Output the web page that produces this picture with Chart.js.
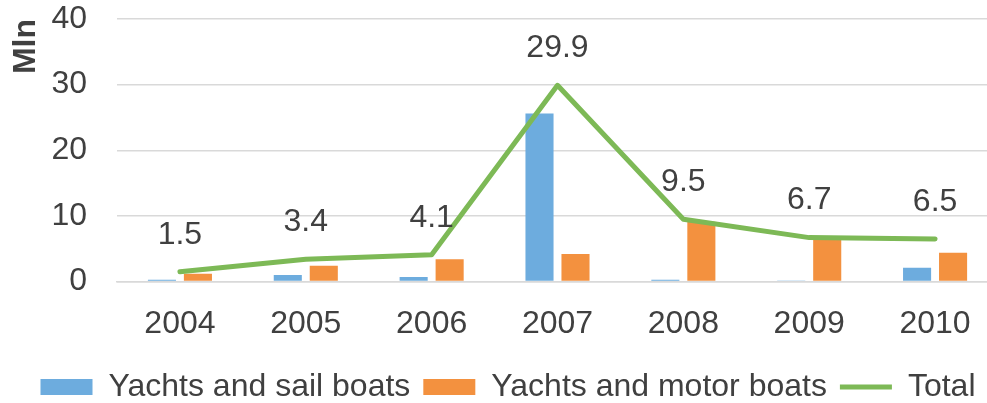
<!DOCTYPE html>
<html>
<head>
<meta charset="utf-8">
<script src="https://cdn.jsdelivr.net/npm/chart.js@4/dist/chart.umd.min.js"></script>
<style>
  html, body { margin: 0; padding: 0; background: #fff; }
  #wrap { width: 987px; height: 403px; overflow: hidden; }
</style>
</head>
<body>
<div id="wrap"><canvas id="myChart" width="1000" height="403"></canvas></div>
<script>
var years = ["2004", "2005", "2006", "2007", "2008", "2009", "2010"];
var sailBoats = [0.3, 1.0, 0.7, 25.6, 0.3, 0.15, 2.1];
var motorBoats = [1.2, 2.4, 3.4, 4.2, 9.1, 6.5, 4.4];
var total = [1.5, 3.4, 4.1, 29.9, 9.5, 6.7, 6.5];
var yTicks = [0, 10, 20, 30, 40];

Chart.defaults.font.family = "'Liberation Sans', Arial, sans-serif";
Chart.defaults.color = "#404040";

// labels above the Total line, legend nudged right a bit
var totalLabels = {
  id: "totalLabels",
  afterLayout: function (chart) {
    chart.legend.left += 9;
    chart.legend.right += 9;
  },
  afterDatasetsDraw: function (chart) {
    var ctx = chart.ctx;
    var meta = chart.getDatasetMeta(2);
    ctx.save();
    ctx.font = "32px 'Liberation Sans', Arial, sans-serif";
    ctx.fillStyle = "#404040";
    ctx.textAlign = "center";
    ctx.textBaseline = "middle";
    meta.data.forEach(function (pt, i) {
      ctx.fillText(total[i].toFixed(1), pt.x, pt.y - 37);
    });
    ctx.restore();
  },
};

var ctx = document.getElementById("myChart");
var myChart = new Chart(ctx, {
  type: "bar",
  data: {
    labels: years,
    datasets: [
      {
        label: "Yachts and sail boats",
        data: sailBoats,
        backgroundColor: "#6DACDE",
        categoryPercentage: 0.572,
        barPercentage: 0.78,
        order: 1,
      },
      {
        label: "Yachts and motor boats",
        data: motorBoats,
        backgroundColor: "#F3913F",
        categoryPercentage: 0.572,
        barPercentage: 0.78,
        order: 1,
      },
      {
        type: "line",
        label: "Total",
        data: total,
        borderColor: "#7DB956",
        backgroundColor: "#7DB956",
        borderWidth: 5,
        borderCapStyle: "round",
        borderJoinStyle: "round",
        pointRadius: 0,
        tension: 0,
        fill: false,
        order: 0,
      },
    ],
  },
  options: {
    responsive: false,
    animation: false,
    layout: { padding: { top: 19, right: 2, left: 0, bottom: -10 } },
    plugins: {
      tooltip: { enabled: false },
      legend: {
        position: "bottom",
        labels: {
          usePointStyle: true,
          pointStyleWidth: 52,
          boxHeight: 16,
          padding: 13,
          color: "#404040",
          font: { size: 32 },
          sort: function (a, b) { return a.datasetIndex - b.datasetIndex; },
          generateLabels: function (chart) {
            var items = Chart.defaults.plugins.legend.labels.generateLabels(chart);
            items.forEach(function (it) {
              if (it.datasetIndex === 2) {
                it.pointStyle = "line";
                it.lineWidth = 5;
                it.strokeStyle = "#7DB956";
              } else {
                it.pointStyle = "rect";
                it.lineWidth = 0;
              }
            });
            return items;
          },
        },
      },
    },
    scales: {
      x: {
        grid: { display: false },
        border: { color: "#D9D9D9", width: 1.5 },
        ticks: { padding: 15, font: { size: 32 }, color: "#404040" },
      },
      y: {
        min: 0,
        max: 40,
        afterBuildTicks: function (scale) {
          scale.ticks = yTicks.map(function (v) { return { value: v }; });
        },
        afterFit: function (scale) {
          scale.width = 117;
          scale.paddingTop = 0;
          scale.paddingBottom = 0;
        },
        grid: { color: "#D9D9D9", lineWidth: 1.5, drawTicks: false },
        border: { display: false },
        ticks: { padding: 30, font: { size: 32 }, color: "#404040" },
        title: {
          display: true,
          text: "Mln",
          align: "end",
          color: "#404040",
          font: { size: 32, weight: "bold" },
          padding: { top: 7, bottom: 0 },
        },
      },
    },
  },
  plugins: [totalLabels],
});
</script>
</body>
</html>
